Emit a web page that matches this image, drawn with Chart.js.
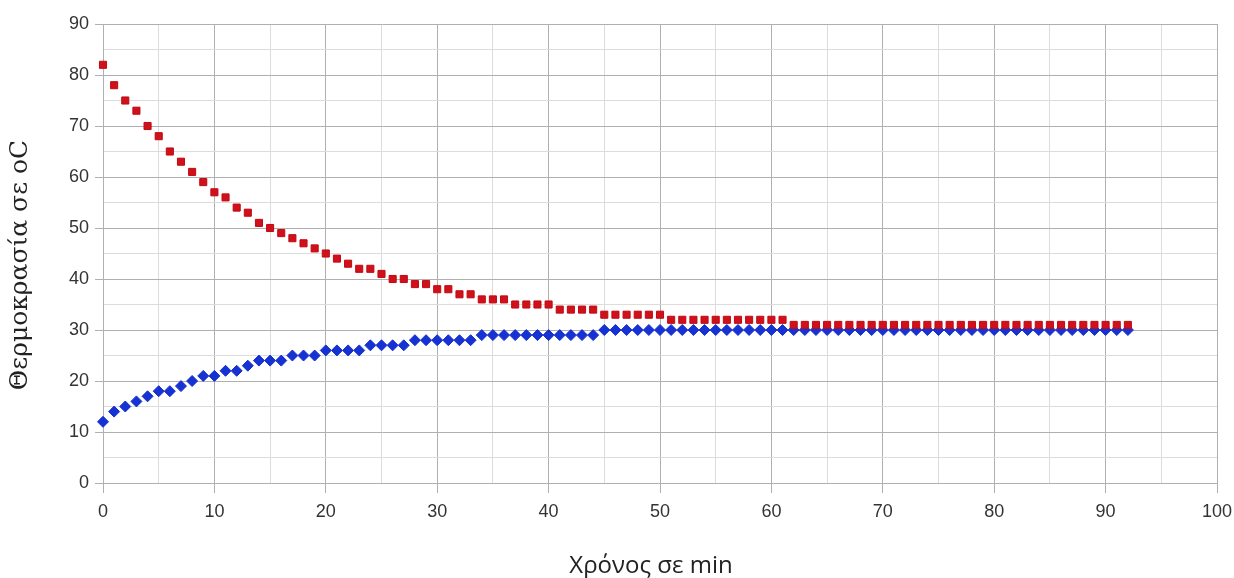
<!DOCTYPE html>
<html>
<head>
<meta charset="utf-8">
<script src="https://cdn.jsdelivr.net/npm/chart.js@4"></script>
<style>
  html, body { margin: 0; padding: 0; background: #ffffff; }
  #wrap { width: 1234px; height: 578px; }
</style>
</head>
<body>
<div id="wrap"><canvas id="c" width="1234" height="578"></canvas></div>
<script>
const timesMin = [0,1,2,3,4,5,6,7,8,9,10,11,12,13,14,15,16,17,18,19,20,21,22,23,24,25,26,27,28,29,30,31,32,33,34,35,36,37,38,39,40,41,42,43,44,45,46,47,48,49,50,51,52,53,54,55,56,57,58,59,60,61,62,63,64,65,66,67,68,69,70,71,72,73,74,75,76,77,78,79,80,81,82,83,84,85,86,87,88,89,90,91,92];
const hotWater = [82,78,75,73,70,68,65,63,61,59,57,56,54,53,51,50,49,48,47,46,45,44,43,42,42,41,40,40,39,39,38,38,37,37,36,36,36,35,35,35,35,34,34,34,34,33,33,33,33,33,33,32,32,32,32,32,32,32,32,32,32,32,31,31,31,31,31,31,31,31,31,31,31,31,31,31,31,31,31,31,31,31,31,31,31,31,31,31,31,31,31,31,31];
const coldWater = [12,14,15,16,17,18,18,19,20,21,21,22,22,23,24,24,24,25,25,25,26,26,26,26,27,27,27,27,28,28,28,28,28,28,29,29,29,29,29,29,29,29,29,29,29,30,30,30,30,30,30,30,30,30,30,30,30,30,30,30,30,30,30,30,30,30,30,30,30,30,30,30,30,30,30,30,30,30,30,30,30,30,30,30,30,30,30,30,30,30,30,30,30];
const xTitle = 'Χρόνος σε min';
const yTitle = 'Θερμοκρασία σε oC';

const MAJOR = '#b0b0b0';
const MINOR = '#dcdcdc';
const tickFont = { family: "'Liberation Sans', sans-serif", size: 18 };

function pts(ys) { return timesMin.map((t, i) => ({ x: t, y: ys[i] })); }
const isMajor = ctx => ctx.tick && ctx.tick.value % 10 === 0;

// draws the two axis titles at the positions they have in the reference
const axisTitles = {
  id: 'axisTitles',
  afterDraw(chart) {
    const ctx = chart.ctx;
    ctx.save();
    ctx.fillStyle = '#222';
    ctx.textAlign = 'center';
    ctx.textBaseline = 'middle';
    ctx.font = "24px 'Open Sans', sans-serif";
    ctx.fillText(xTitle, 651, 566);
    ctx.translate(20, 265);
    ctx.rotate(-Math.PI / 2);
    ctx.font = "25px 'DejaVu Serif', serif";
    ctx.fillText(yTitle, 0, 0);
    ctx.restore();
  }
};

new Chart(document.getElementById('c'), {
  type: 'scatter',
  data: {
    datasets: [
      { label: 'hot', data: pts(hotWater), pointStyle: 'rect', pointRadius: 5, pointHoverRadius: 5,
        backgroundColor: '#d0101a', borderColor: '#c00a12', borderWidth: 1, clip: false },
      { label: 'cold', data: pts(coldWater), pointStyle: 'rectRot', pointRadius: 5.5, pointHoverRadius: 5.5,
        backgroundColor: '#1732d2', borderColor: '#1530cc', borderWidth: 1, clip: false }
    ]
  },
  options: {
    responsive: false,
    animation: false,
    layout: { padding: { top: 24, right: 17, left: 0, bottom: 0 } },
    plugins: { legend: { display: false }, tooltip: { enabled: false } },
    scales: {
      x: {
        type: 'linear', min: 0, max: 100,
        afterFit: s => { s.height = 95; s.paddingRight = 10; s.paddingLeft = 0; },
        ticks: { stepSize: 5, autoSkip: false, maxRotation: 0, padding: 8, color: '#333',
                 font: tickFont, callback: v => (v % 10 === 0 ? String(v) : '') },
        grid: { color: c => isMajor(c) ? MAJOR : MINOR, tickColor: c => isMajor(c) ? MAJOR : 'rgba(0,0,0,0)',
                tickLength: 10, lineWidth: 1 },
        border: { color: MAJOR },
        title: { display: false, text: xTitle }
      },
      y: {
        type: 'linear', min: 0, max: 90,
        afterFit: s => { s.width = 103; s.paddingTop = 0; s.paddingBottom = 0; },
        ticks: { stepSize: 5, autoSkip: false, padding: 6, color: '#333',
                 font: tickFont, callback: v => (v % 10 === 0 ? String(v) : '') },
        grid: { color: c => isMajor(c) ? MAJOR : MINOR, tickColor: c => isMajor(c) ? MAJOR : 'rgba(0,0,0,0)',
                tickLength: 8, lineWidth: 1 },
        border: { color: MAJOR },
        title: { display: false, text: yTitle }
      }
    }
  },
  plugins: [axisTitles]
});
</script>
</body>
</html>
